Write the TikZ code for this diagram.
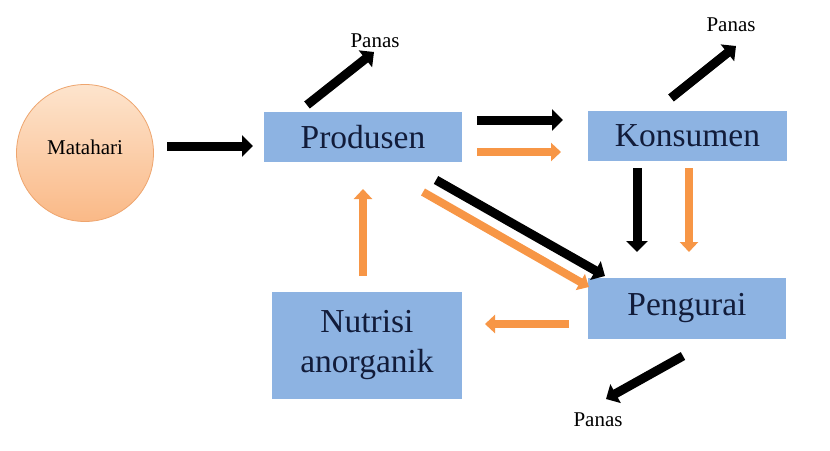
\documentclass[tikz,border=0pt]{standalone}
\usepackage{fontspec}
\setmainfont{Liberation Serif}
\usetikzlibrary{arrows.meta}
\definecolor{boxblue}{RGB}{141,179,226}
\definecolor{txtnavy}{RGB}{18,28,58}
\definecolor{arrorange}{RGB}{247,150,70}
\definecolor{suntop}{RGB}{253,228,205}
\definecolor{sunbot}{RGB}{250,185,135}
\definecolor{sunedge}{RGB}{238,165,110}
\tikzset{
  box/.style={rectangle, fill=boxblue, draw=none, inner sep=0pt, text=txtnavy,
    font=\fontsize{33.5}{40}\selectfont, align=center},
  sunnode/.style={circle, minimum size=137pt, inner sep=0pt, top color=suntop,
    bottom color=sunbot, draw=sunedge, line width=0.8pt},
  heatlbl/.style={font=\fontsize{21}{24}\selectfont, text=black, inner sep=0pt},
  blk/.style={draw=black, line width=9pt, -{Triangle[length=11pt,width=21pt]}},
  org/.style={draw=arrorange, line width=8pt, -{Triangle[length=10pt,width=18pt]}}
}
\begin{document}
\begin{tikzpicture}[x=1pt,y=-1pt]
\useasboundingbox (0,0) rectangle (830,450);
\fill[white] (0,0) rectangle (830,450);

\node[sunnode] (sun) at (85,153) {};
\node[heatlbl] (suntxt) at (85,147) {Matahari};

\node[box, minimum width=198pt, minimum height=50pt] (prod) at (363,137) {Produsen};
\node[box, minimum width=199pt, minimum height=50pt] (kons) at (687.5,136) {Konsumen};
\node[box, minimum width=198pt, minimum height=61pt] (peng) at (687,308.5) {Pengurai};
\node[box, minimum width=190pt, minimum height=107pt] (nutr) at (367,345.5) {Nutrisi\\anorganik};

\node[heatlbl] (panas1) at (375,41) {Panas};
\node[heatlbl] (panas2) at (731,25) {Panas};
\node[heatlbl] (panas3) at (598,420) {Panas};

% arrow end points
\coordinate (a1s) at (167,146);  \coordinate (a1e) at (253,146);
\coordinate (a2s) at (477,120);  \coordinate (a2e) at (563,120);
\coordinate (a3s) at (477,152);  \coordinate (a3e) at (561,152);
\coordinate (a4s) at (307,105);  \coordinate (a4e) at (374,52);
\coordinate (a5s) at (671,98);   \coordinate (a5e) at (736,46);
\coordinate (a6s) at (637,168);  \coordinate (a6e) at (637,252);
\coordinate (a7s) at (689,168);  \coordinate (a7e) at (689,252);
\coordinate (a8s) at (436,180);  \coordinate (a8e) at (605,276);
\coordinate (a9s) at (423,192);  \coordinate (a9e) at (589,287);
\coordinate (a10s) at (569,324); \coordinate (a10e) at (485,324);
\coordinate (a11s) at (363,276); \coordinate (a11e) at (363,189);
\coordinate (a12s) at (683,356); \coordinate (a12e) at (606,399);

\draw[blk] (a1s) -- (a1e);
\draw[blk] (a2s) -- (a2e);
\draw[org] (a3s) -- (a3e);
\draw[blk] (a4s) -- (a4e);
\draw[blk] (a5s) -- (a5e);
\draw[blk] (a6s) -- (a6e);
\draw[org] (a7s) -- (a7e);
\draw[blk] (a8s) -- (a8e);
\draw[org] (a9s) -- (a9e);
\draw[org] (a10s) -- (a10e);
\draw[org] (a11s) -- (a11e);
\draw[blk] (a12s) -- (a12e);
\end{tikzpicture}
\end{document}
